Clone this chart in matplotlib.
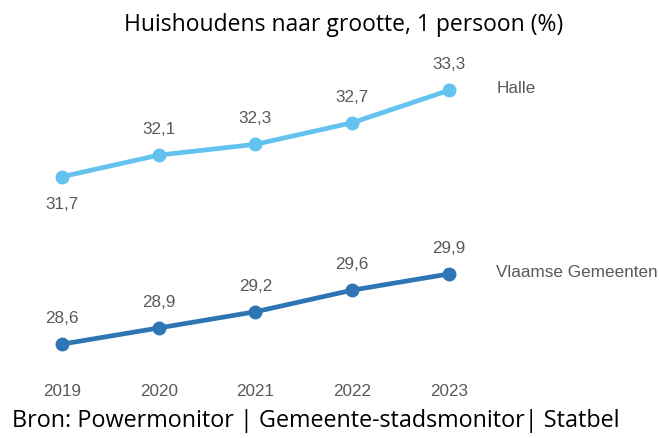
import matplotlib

matplotlib.use("Agg")
import matplotlib.pyplot as plt

years = [2019, 2020, 2021, 2022, 2023]
halle = [31.7, 32.1, 32.3, 32.7, 33.3]
vlaamse = [28.6, 28.9, 29.2, 29.6, 29.9]
halle_pos = ["below", "above", "above", "above", "above"]
vlaamse_pos = ["above"] * 5

_TEXT = "#595959"
_HALLE = "#63c3ee"
_VLAAMSE = "#2e75b6"


def fmt(v: float) -> str:
    return f"{v:.1f}".replace(".", ",")


fig = plt.figure(figsize=(6.59, 4.39), dpi=100)
ax = fig.add_axes([0, 69 / 439, 1, 310 / 439])
ax.set_xlim(2018.36, 2025.17)
ax.set_ylim(28.14, 33.88)
ax.axis("off")

for values, color, positions, name in [
    (halle, _HALLE, halle_pos, "Halle"),
    (vlaamse, _VLAAMSE, vlaamse_pos, "Vlaamse Gemeenten"),
]:
    ax.plot(years, values, color=color, linewidth=3.4, marker="o", markersize=9,
            solid_capstyle="round")
    for x, v, pos in zip(years, values, positions):
        dy = 19 if pos == "above" else -19
        ax.annotate(fmt(v), (x, v), xytext=(0, dy), textcoords="offset points",
                    ha="center", va="center", fontsize=12.3, color=_TEXT,
                    family="Liberation Sans")
    ax.annotate(name, (years[-1], values[-1]), xytext=(34, 2), textcoords="offset points",
                ha="left", va="center", fontsize=12.3, color=_TEXT,
                family="Liberation Sans")

for x in years:
    ax.annotate(str(x), (x, 0), xycoords=("data", "figure fraction"),
                xytext=(0, 439 - 392), textcoords="offset pixels",
                ha="center", va="center", fontsize=12.3, color=_TEXT,
                family="Liberation Sans")

fig.text(0.521, 1 - 25 / 439, "Huishoudens naar grootte, 1 persoon (%)",
         ha="center", va="center", fontsize=16.5, color="#000000", family="Open Sans")
fig.text(12 / 659, 1 - 421 / 439, "Bron: Powermonitor | Gemeente-stadsmonitor| Statbel",
         ha="left", va="center", fontsize=16.8, color="#000000", family="Open Sans")

fig.savefig("out.png", dpi=100, facecolor="white")
